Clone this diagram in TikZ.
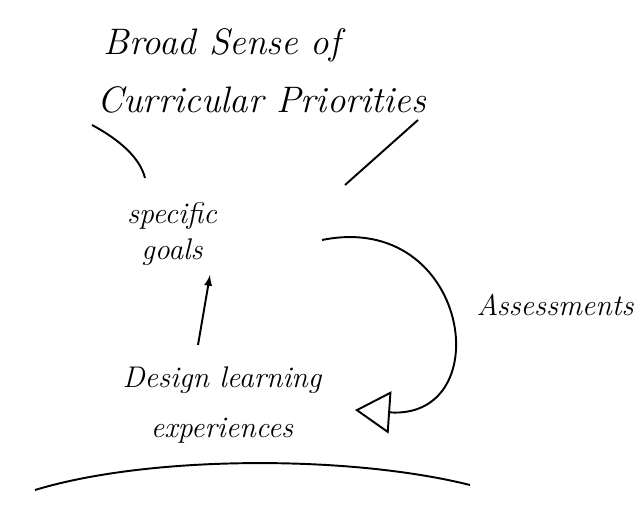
\documentclass[tikz,border=0pt]{standalone}
\usepackage{tikz}
\usetikzlibrary{arrows.meta}
\tikzset{> = latex, every picture/.style={line width=1.1pt}}

\begin{document}
\begin{tikzpicture}[x=0.02cm,y=-0.02cm]
\useasboundingbox (0,0) rectangle (640,516);
\begin{scope}[every node/.style={font=\itshape\fontsize{21}{25}\selectfont,align=center,inner sep=2pt}]
\node (broad) at (222,45) {Broad Sense of};
\node (prio) at (262,100) {Curricular Priorities};
\node [font=\itshape\fontsize{17}{20}\selectfont] (goals) at (172,234) {specific\\goals};
\node [font=\itshape\fontsize{17}{28}\selectfont] (design) at (222,405) {Design learning\\experiences};
\node [font=\itshape\fontsize{17}{20}\selectfont] (assess) at (555,305) {Assessments};
\end{scope}

\coordinate (l1) at (92,125);
\coordinate (l2) at (145,178);
\coordinate (r1) at (418,120);
\coordinate (r2) at (345,185);
\coordinate (a1) at (322,240);
\coordinate (a2) at (355,410);

\draw (l1) .. controls (120,140) and (140,158) .. (l2);
\draw (r1) -- (r2);
\draw [->] (198,345) -- (210,275);
\draw [-{Triangle[open,length=20pt,width=24pt]}] (a1) .. controls (470,210) and (500,420) .. (a2);
\draw (35,490) .. controls (150,455) and (350,455) .. (470,485);
\end{tikzpicture}
\end{document}
